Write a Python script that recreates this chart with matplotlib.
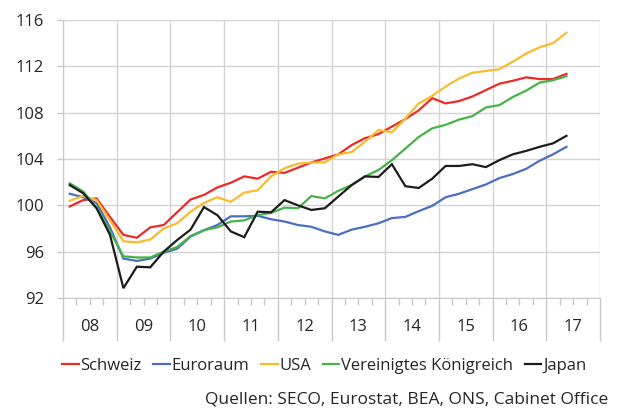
import matplotlib
matplotlib.use("Agg")
import matplotlib.pyplot as plt
import numpy as np

# Quartalswerte 2008 Q1 .. 2017 Q2
jahre = ["08", "09", "10", "11", "12", "13", "14", "15", "16", "17"]

schweiz = [99.9, 100.45, 100.6, 99.0, 97.45, 97.2, 98.1, 98.3, 99.4, 100.5,
           100.9, 101.55, 101.95, 102.5, 102.3, 102.9, 102.8, 103.25, 103.7, 104.05,
           104.4, 105.2, 105.8, 106.15, 106.8, 107.45, 108.2, 109.25, 108.8, 109.0,
           109.4, 109.95, 110.5, 110.75, 111.05, 110.9, 110.9, 111.35]
euroraum = [101.0, 100.7, 100.2, 98.1, 95.4, 95.2, 95.4, 95.9, 96.25, 97.3,
            97.85, 98.3, 99.05, 99.05, 99.1, 98.8, 98.6, 98.3, 98.15, 97.75,
            97.45, 97.9, 98.15, 98.45, 98.9, 99.0, 99.5, 99.95, 100.7, 101.0,
            101.4, 101.8, 102.35, 102.7, 103.15, 103.85, 104.4, 105.05]
usa = [100.4, 100.8, 100.45, 98.7, 96.9, 96.8, 97.05, 98.0, 98.45, 99.45,
       100.2, 100.7, 100.3, 101.1, 101.3, 102.5, 103.2, 103.6, 103.7, 103.7,
       104.4, 104.6, 105.5, 106.5, 106.3, 107.5, 108.8, 109.45, 110.25, 110.95,
       111.45, 111.6, 111.75, 112.4, 113.1, 113.65, 114.0, 114.9]
uk = [101.9, 101.2, 99.8, 97.75, 95.6, 95.5, 95.5, 96.0, 96.4, 97.35,
      97.85, 98.1, 98.6, 98.7, 99.15, 99.35, 99.8, 99.75, 100.8, 100.6,
      101.25, 101.75, 102.5, 103.05, 103.9, 104.9, 105.9, 106.65, 106.95, 107.4,
      107.7, 108.45, 108.65, 109.35, 109.9, 110.6, 110.8, 111.15]
japan = [101.75, 101.05, 99.75, 97.45, 92.85, 94.7, 94.65, 96.0, 97.0, 97.9,
         99.85, 99.15, 97.75, 97.25, 99.45, 99.4, 100.45, 100.0, 99.6, 99.75,
         100.75, 101.75, 102.5, 102.45, 103.55, 101.65, 101.5, 102.3, 103.4, 103.4,
         103.55, 103.3, 103.9, 104.4, 104.7, 105.05, 105.35, 106.0]

serien = [("Schweiz", schweiz, "#ee2a26"),
          ("Euroraum", euroraum, "#4a6fbf"),
          ("USA", usa, "#f8bb2c"),
          ("Vereinigtes Königreich", uk, "#45b34a"),
          ("Japan", japan, "#1c1c1c")]

plt.rcParams["font.family"] = ["Open Sans", "DejaVu Sans"]

fig = plt.figure(figsize=(6.23, 4.09), dpi=100)
ax = fig.add_axes([63 / 623, 1 - 298 / 409, 537 / 623, 278 / 409])

x = np.arange(len(schweiz)) + 0.5
for name, werte, farbe in serien:
    ax.plot(x, werte, color=farbe, lw=1.6, label=name, solid_joinstyle="miter")

ax.set_xlim(0, 4 * len(jahre))
ax.set_ylim(92, 116)
ax.set_yticks(np.arange(92, 117, 4))

grau = "#c8c8c8"
ax.set_xticks(np.arange(0, 4 * len(jahre) + 1, 4))
ax.set_xticks([q for q in range(1, 4 * len(jahre)) if q % 4], minor=True)
ax.set_xticklabels([])
ax.grid(True, which="major", color="#d4d4d4", lw=1.0)
ax.set_axisbelow(True)

for s in ["top", "right"]:
    ax.spines[s].set_visible(False)
ax.spines["left"].set_color(grau)
ax.spines["bottom"].set_color(grau)

ax.tick_params(axis="x", which="major", length=31, width=1, color=grau)
ax.tick_params(axis="x", which="minor", length=5, width=1, color=grau)
ax.tick_params(axis="y", length=4.5, width=1, color=grau, pad=9,
               labelsize=12, labelcolor="#262626")

for k, j in enumerate(jahre):
    ax.text(4 * k + 2, -0.105, j, transform=ax.get_xaxis_transform(),
            ha="center", va="center", fontsize=12, color="#262626")

fig.legend(loc="center", bbox_to_anchor=(324 / 623, 1 - 366 / 409), ncol=5,
           frameon=False, fontsize=12, handlelength=1.0, handletextpad=0.1,
           columnspacing=0.7, labelcolor="#262626")

fig.text(608 / 623, 1 - 399 / 409, "Quellen: SECO, Eurostat, BEA, ONS, Cabinet Office",
         ha="right", va="center", fontsize=12.5, color="#262626")

fig.savefig("out.png", dpi=100)
